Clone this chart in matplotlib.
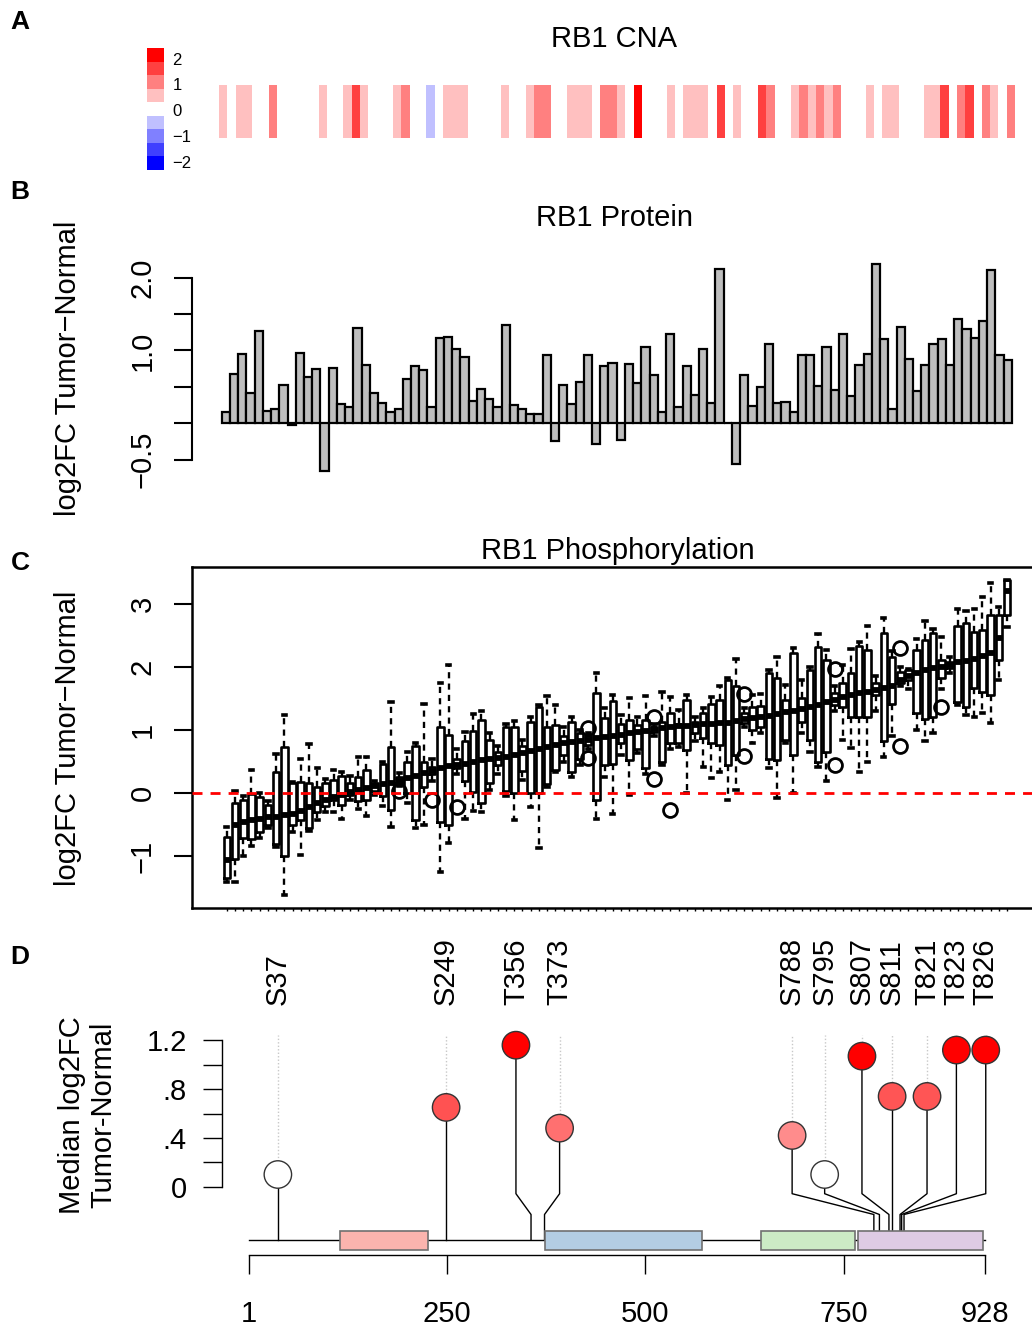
import numpy as np
import matplotlib
matplotlib.use('Agg')
import matplotlib.pyplot as plt
from matplotlib.colors import ListedColormap, BoundaryNorm

plt.rcParams['font.family'] = ['Liberation Sans', 'DejaVu Sans']

# ---------------- data ----------------
# Panel A: CNA colour level per sample (-4..4, see legend)
cna_level = [1, 0, 1, 1, 0, 0, 2, 0, 0, 0,
             0, 0, 1, 0, 0, 1, 3, 1, 0, 0,
             0, 1, 2, 0, 0, -1, 0, 1, 1, 1,
             0, 0, 0, 0, 1, 0, 0, 1, 2, 2,
             0, 0, 1, 1, 1, 0, 2, 2, 1, 0,
             4, 0, 0, 0, 1, 0, 1, 1, 1, 0,
             3, 0, 1, 0, 0, 3, 2, 0, 0, 1,
             2, 1, 2, 1, 2, 0, 0, 0, 1, 0,
             1, 1, 0, 0, 0, 1, 1, 3, 0, 2,
             3, 0, 2, 1, 0, 2]
cna_colors = ['#0000FF', '#4040FF', '#8080FF', '#C0C0FF', '#FFFFFF',
              '#FFC0C0', '#FF8080', '#FF4040', '#FF0000']
legend_ticks = [-2, -1, 0, 1, 2]
legend_labels = ['\u22122', '\u22121', '0', '1', '2']

# Panel B: protein log2FC per sample
protein = [0.15, 0.68, 0.95, 0.41, 1.27, 0.17, 0.19, 0.52, -0.02, 0.97,
           0.64, 0.74, -0.66, 0.76, 0.26, 0.22, 1.31, 0.80, 0.42, 0.28,
           0.15, 0.20, 0.61, 0.78, 0.73, 0.22, 1.17, 1.18, 1.02, 0.91,
           0.30, 0.47, 0.34, 0.22, 1.35, 0.25, 0.20, 0.13, 0.13, 0.94,
           -0.24, 0.53, 0.27, 0.57, 0.94, -0.28, 0.79, 0.83, -0.23, 0.82,
           0.55, 1.05, 0.66, 0.16, 1.22, 0.23, 0.78, 0.39, 1.02, 0.28,
           2.12, 0.00, -0.56, 0.66, 0.24, 0.50, 1.09, 0.28, 0.29, 0.15,
           0.94, 0.94, 0.51, 1.05, 0.45, 1.22, 0.38, 0.80, 0.95, 2.19,
           1.16, 0.20, 1.32, 0.88, 0.44, 0.80, 1.09, 1.16, 0.80, 1.43,
           1.30, 1.17, 1.41, 2.10, 0.94, 0.87]

# Panel C: phosphosite log2FC box statistics per sample (sorted by median)
ph_lo = [-1.41, -1.41, -1.00, -0.83, -0.70, -0.55, -0.85, -1.61, -0.62, -0.98,
         -0.60, -0.42, -0.30, -0.29, -0.41, -0.10, -0.25, -0.36, -0.02, -0.20,
         -0.53, 0.12, -0.15, -0.55, -0.50, 0.20, -1.24, -0.79, 0.30, -0.40,
         -0.28, -0.30, 0.05, 0.30, -0.05, -0.42, 0.21, -0.21, -0.87, 0.10,
         0.33, 0.50, 0.26, 0.45, 0.70, -0.40, 0.26, -0.32, 0.60, -0.03,
         0.63, 0.30, 0.90, 0.45, 0.70, 0.74, 0.00, 0.82, 0.42, 0.24,
         0.33, -0.10, 0.05, 1.05, 0.80, 0.95, 0.40, -0.07, 0.79, 0.01,
         0.95, 0.66, 0.41, 0.20, 1.30, 0.84, 0.71, 0.33, 0.50, 1.30,
         0.58, 0.90, 1.70, 1.65, 1.00, 0.82, 0.95, 1.65, 1.90, 1.40,
         1.24, 1.21, 1.27, 1.11, 1.80, 2.63]
ph_q1 = [-1.34, -1.04, -0.71, -0.72, -0.62, -0.50, -0.80, -1.00, -0.50, -0.42,
         -0.55, -0.30, -0.20, -0.10, -0.18, -0.02, -0.12, -0.10, 0.04, -0.05,
         -0.27, 0.17, 0.00, -0.42, 0.10, 0.30, -0.46, -0.50, 0.40, 0.20,
         0.02, -0.16, 0.16, 0.45, 0.03, 0.00, 0.35, 0.00, 0.00, 0.15,
         0.37, 0.60, 0.34, 0.55, 0.76, -0.10, 0.45, 0.47, 0.80, 0.53,
         0.70, 0.40, 0.97, 0.50, 0.79, 0.80, 0.69, 0.95, 0.87, 0.79,
         0.76, 0.45, 0.60, 1.11, 1.00, 1.05, 0.55, 0.53, 0.85, 0.61,
         1.13, 0.84, 0.50, 0.66, 1.40, 1.37, 1.21, 1.21, 1.21, 1.55,
         0.83, 1.42, 1.75, 1.79, 1.27, 1.17, 1.21, 1.82, 1.98, 1.45,
         1.37, 1.66, 1.61, 1.56, 2.11, 2.82]
ph_med = [-1.05, -0.50, -0.45, -0.42, -0.40, -0.38, -0.37, -0.35, -0.33, -0.28,
          -0.22, -0.15, -0.10, -0.06, -0.02, 0.02, 0.06, 0.09, 0.12, 0.14,
          0.17, 0.20, 0.24, 0.28, 0.32, 0.36, 0.40, 0.43, 0.45, 0.47,
          0.49, 0.52, 0.54, 0.56, 0.58, 0.61, 0.64, 0.67, 0.70, 0.73,
          0.76, 0.79, 0.81, 0.83, 0.85, 0.87, 0.89, 0.91, 0.93, 0.95,
          0.97, 0.99, 1.01, 1.03, 1.05, 1.06, 1.07, 1.08, 1.09, 1.10,
          1.11, 1.12, 1.14, 1.17, 1.19, 1.21, 1.23, 1.25, 1.28, 1.30,
          1.33, 1.36, 1.40, 1.44, 1.48, 1.52, 1.55, 1.58, 1.60, 1.63,
          1.66, 1.70, 1.80, 1.85, 1.90, 1.95, 1.98, 2.00, 2.03, 2.07,
          2.10, 2.13, 2.18, 2.22, 2.45, 3.20]
ph_q3 = [-0.69, -0.16, -0.10, -0.01, -0.06, -0.18, 0.33, 0.74, 0.16, 0.18,
         0.16, 0.10, 0.17, 0.21, 0.28, 0.16, 0.25, 0.37, 0.16, 0.47,
         0.74, 0.25, 0.49, 0.75, 0.50, 0.42, 1.05, 0.93, 0.55, 0.82,
         0.98, 1.16, 0.84, 0.65, 1.05, 1.05, 0.75, 1.13, 1.36, 1.05,
         1.08, 0.90, 1.13, 0.95, 0.90, 1.58, 1.19, 1.46, 1.10, 1.16,
         1.08, 1.16, 1.05, 1.13, 1.27, 1.10, 1.48, 1.13, 1.27, 1.42,
         1.48, 1.80, 1.70, 1.27, 1.37, 1.38, 1.90, 1.82, 1.48, 2.22,
         1.50, 1.95, 2.32, 2.11, 1.58, 1.74, 1.90, 2.33, 2.27, 1.75,
         2.53, 2.16, 1.92, 1.95, 2.27, 2.43, 2.53, 2.11, 2.08, 2.64,
         2.69, 2.56, 2.58, 2.82, 2.82, 3.38]
ph_hi = [-0.53, 0.03, -0.05, 0.37, 0.00, -0.12, 0.62, 1.24, 0.18, 0.55,
         0.78, 0.40, 0.22, 0.37, 0.34, 0.28, 0.58, 0.58, 0.20, 0.50,
         1.45, 0.32, 0.65, 0.80, 1.42, 0.55, 1.74, 2.03, 0.70, 0.97,
         1.25, 1.30, 0.95, 0.75, 1.10, 1.14, 0.85, 1.20, 1.40, 1.54,
         1.40, 1.05, 1.21, 1.00, 0.95, 1.91, 1.35, 1.55, 1.24, 1.50,
         1.20, 1.54, 1.10, 1.61, 1.53, 1.32, 1.55, 1.20, 1.35, 1.53,
         1.69, 1.82, 2.12, 1.35, 1.56, 1.57, 1.95, 2.15, 1.71, 2.30,
         1.79, 2.00, 2.52, 2.27, 1.70, 2.03, 2.29, 2.40, 2.64, 1.85,
         2.77, 2.25, 2.00, 1.96, 2.44, 2.72, 2.60, 2.48, 2.15, 2.91,
         2.89, 2.91, 3.11, 3.33, 2.95, 3.38]
ph_outliers = {21: [0.04], 25: [-0.10], 28: [-0.21], 44: [1.03, 0.56],
               52: [1.21, 0.22], 54: [-0.26], 63: [1.57, 0.59],
               74: [1.96, 0.45], 82: [2.30, 0.75], 87: [1.37]}

# Panel D: phosphosites on RB1
protein_length = 928
sites = ['S37', 'S249', 'T356', 'T373', 'S788', 'S795', 'S807', 'S811',
         'T821', 'T823', 'T826']
site_pos = [37, 249, 356, 373, 788, 795, 807, 811, 821, 823, 826]
site_head_pos = [37, 249, 337, 392, 685, 726, 773, 811, 855, 892, 929]
site_median = [0.10, 0.65, 1.16, 0.48, 0.42, 0.10, 1.07, 0.74, 0.74, 1.12, 1.12]
site_color = ['#FFFFFF', '#FF5252', '#FF0000', '#FF7070', '#FF8C8C', '#FFFFFF',
              '#FF0000', '#FF5555', '#FF5555', '#FF0000', '#FF0000']
domain_start = [115, 373, 646, 768]
domain_end = [226, 572, 764, 925]
domain_color = ['#FBB4AE', '#B3CDE3', '#CCEBC5', '#DECBE4']
aa_ticks = [1, 250, 500, 750, 928]
d_ticks = [0, 0.2, 0.4, 0.6, 0.8, 1.0, 1.2]
d_labels = ['0', '', '.4', '', '.8', '', '1.2']

# ---------------- figure ----------------
W, H = 1032, 1328
fig = plt.figure(figsize=(W / 100, H / 100), dpi=100)


def pxa(x0, y0, x1, y1):
    return fig.add_axes([x0 / W, 1 - y1 / H, (x1 - x0) / W, (y1 - y0) / H])


FS = 21
MINUS = '\u2212'

# panel letters
for lab, yy in zip('ABCD', [22, 192, 563, 957]):
    fig.text(20 / W, 1 - yy / H, lab, fontsize=19, fontweight='bold',
             ha='center', va='center')

# ---- Panel A ----
cmap = ListedColormap(cna_colors)
norm = BoundaryNorm(np.arange(-4.5, 5.5, 1), cmap.N)
axa = pxa(219, 85, 1015, 138)
n = len(cna_level)
axa.pcolormesh(np.arange(n + 1), [0, 1], np.array([cna_level]), cmap=cmap, norm=norm)
axa.set_xlim(0, n)
axa.set_ylim(0, 1)
axa.axis('off')
fig.text(614 / W, 1 - 47 / H, 'RB1 CNA', fontsize=FS, ha='center', va='baseline')

axl = pxa(147, 48, 164, 170)
edges = np.linspace(-2.33, 2.41, 10)
axl.pcolormesh([0, 1], edges, np.arange(-4, 5).reshape(-1, 1), cmap=cmap, norm=norm)
axl.set_xlim(0, 1)
axl.set_ylim(-2.33, 2.41)
axl.set_xticks([])
axl.yaxis.tick_right()
axl.set_yticks(legend_ticks, legend_labels)
axl.tick_params(axis='y', length=0, labelsize=12, pad=6)
for s in axl.spines.values():
    s.set_visible(False)

# ---- Panel B ----
bx0, bscale = 225.8, 8.23
by0, byscale = 423.3, 72.9
axb = pxa(191.7, 250, 1032, 480)
xb = np.arange(len(protein))
axb.bar(xb, protein, width=1.0, color='#BEBEBE', edgecolor='black', linewidth=1.6)
axb.set_xlim((191.7 - bx0) / bscale, (1032 - bx0) / bscale)
axb.set_ylim((by0 - 480) / byscale, (by0 - 250) / byscale)
for s in ['top', 'right', 'bottom']:
    axb.spines[s].set_visible(False)
axb.spines['left'].set_bounds(-0.5, 2.0)
axb.spines['left'].set_linewidth(1.5)
axb.set_xticks([])
axb.set_yticks([-0.5, 0, 0.5, 1.0, 1.5, 2.0], [MINUS + '0.5', '', '', '1.0', '', '2.0'])
axb.tick_params(axis='y', length=13, width=1.5, labelsize=FS, pad=12)
for t in axb.get_yticklabels():
    t.set_rotation(90)
    t.set_va('center')
fig.text(614 / W, 1 - 226 / H, 'RB1 Protein', fontsize=FS, ha='center', va='baseline')
fig.text(68 / W, 1 - 368 / H, 'log2FC Tumor' + MINUS + 'Normal', fontsize=FS,
         rotation=90, ha='center', va='center')

# ---- Panel C ----
cx0, cscale = 226.8, 8.213
cy0, cyscale = 793.3, 63.2
axc = pxa(191.7, 566.7, 1040, 908)
stats = []
for i in range(len(ph_med)):
    stats.append(dict(med=ph_med[i], q1=ph_q1[i], q3=ph_q3[i], whislo=ph_lo[i],
                      whishi=ph_hi[i], fliers=ph_outliers.get(i, [])))
axc.bxp(stats, positions=np.arange(len(stats)), widths=0.8, manage_ticks=False,
        boxprops=dict(color='black', linewidth=1.9),
        medianprops=dict(color='black', linewidth=4.2, solid_capstyle='butt'),
        whiskerprops=dict(color='black', linewidth=1.7, linestyle=(0, (2.6, 2.2))),
        capprops=dict(color='black', linewidth=2.6),
        flierprops=dict(marker='o', markerfacecolor='none', markeredgecolor='black',
                        markersize=10, markeredgewidth=2.0))
axc.axhline(0, color='red', lw=2, ls=(0, (3.6, 2.9)), zorder=5)
axc.set_xlim((191.7 - cx0) / cscale, (1040 - cx0) / cscale)
axc.set_ylim((cy0 - 908) / cyscale, (cy0 - 566.7) / cyscale)
for s in axc.spines.values():
    s.set_linewidth(1.8)
axc.set_xticks(np.arange(len(stats)), [''] * len(stats))
axc.tick_params(axis='x', length=2.5, width=1)
axc.set_yticks([-1, 0, 1, 2, 3], [MINUS + '1', '0', '1', '2', '3'])
axc.tick_params(axis='y', length=13, width=1.5, labelsize=FS, pad=12)
for t in axc.get_yticklabels():
    t.set_rotation(90)
    t.set_va('center')
fig.text(618 / W, 1 - 559 / H, 'RB1 Phosphorylation', fontsize=FS, ha='center', va='baseline')
fig.text(68 / W, 1 - 738 / H, 'log2FC Tumor' + MINUS + 'Normal', fontsize=FS,
         rotation=90, ha='center', va='center')

# ---- Panel D ----
dx0, dxs = 249.3, 0.7936   # px of aa 1, px per aa
dy0, dys = 1186.7, 122.0   # px of value 0, px per unit


def aa_of(px):
    return 1 + (px - dx0) / dxs


def v_of(py):
    return (dy0 - py) / dys


axd = pxa(222.3, 930, 1032, 1328)
axd.set_xlim(aa_of(222.3), aa_of(1032))
axd.set_ylim(v_of(1328), v_of(930))
for s in ['top', 'right']:
    axd.spines[s].set_visible(False)
axd.spines['left'].set_bounds(0, 1.2)
axd.spines['left'].set_linewidth(1.0)
axd.spines['bottom'].set_position(('data', v_of(1255.3)))
axd.spines['bottom'].set_bounds(1, protein_length)
axd.spines['bottom'].set_linewidth(1.0)
axd.set_yticks(d_ticks, d_labels)
axd.tick_params(axis='y', length=13.5, width=1.0, labelsize=FS, pad=12)
axd.set_xticks(aa_ticks, [str(t) for t in aa_ticks])
axd.tick_params(axis='x', length=13.5, width=1.0, labelsize=FS, pad=19)

y_line = v_of(1240.3)
y_b1 = v_of(1214.5)
y_b2 = v_of(1193.7)
y_dot = v_of(1035)
axd.plot([1, protein_length], [y_line, y_line], color='black', lw=1.0, zorder=1)
for s0, s1, c in zip(domain_start, domain_end, domain_color):
    axd.add_patch(plt.Rectangle((s0, v_of(1250)), s1 - s0, v_of(1231) - v_of(1250),
                                facecolor=c, edgecolor='#707070', lw=1.2, zorder=3))
for name, p, hp, m in zip(sites, site_pos, site_head_pos, site_median):
    axd.plot([hp, hp], [m, y_dot], color='#C8C8C8', lw=1.0, ls=(0, (1, 1.5)), zorder=1)
    if hp == p:
        axd.plot([p, p], [y_line, m], color='black', lw=1.0, zorder=2)
    else:
        axd.plot([p, p, hp, hp], [y_line, y_b1, y_b2, m], color='black', lw=1.0, zorder=2)
    axd.text(hp, v_of(1005), name, rotation=90, ha='center', va='bottom', fontsize=FS)
axd.scatter(site_head_pos, site_median, s=390, c=site_color, edgecolors='#333333',
            linewidths=1.0, zorder=5)
fig.text(72 / W, 1 - 1115 / H, 'Median log2FC', fontsize=FS, rotation=90,
         ha='center', va='center')
fig.text(103 / W, 1 - 1115 / H, 'Tumor-Normal', fontsize=FS, rotation=90,
         ha='center', va='center')

fig.savefig('out.png', dpi=100)
